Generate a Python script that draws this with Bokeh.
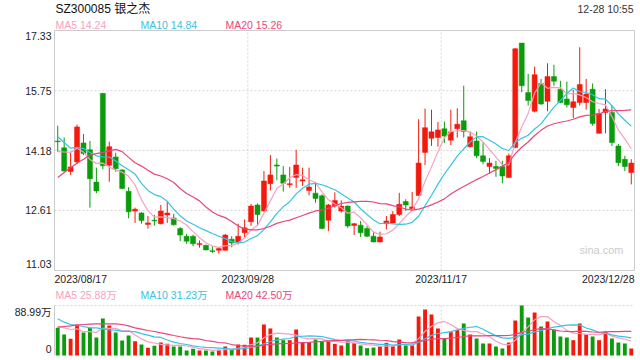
from bokeh.plotting import figure
from bokeh.models import Range1d, ColumnDataSource, Grid
from bokeh.core.properties import value
from bokeh.embed import file_html
from bokeh.resources import INLINE

# ---------------- data ----------------
title_text = "SZ300085 银之杰"
time_text = "12-28 10:55"
date_ticks = ["2023/08/17", "2023/09/28", "2023/11/17", "2023/12/28"]
date_tick_idx = [0, 30, 60, 89]
price_ticks = [17.33, 15.75, 14.18, 12.61, 11.03]
vol_ticks = ["88.99万", "0"]
price_ma_legend = ["MA5 14.24", "MA10 14.84", "MA20 15.26"]
vol_ma_legend = ["MA5 25.88万", "MA10 31.23万", "MA20 42.50万"]

opens = [14.43, 14.25, 13.63, 13.88, 14.38, 14.20, 13.35, 15.68, 13.79, 14.01,
         13.67, 13.11, 12.59, 12.54, 12.24, 12.35, 12.26, 12.49, 12.41, 12.13,
         11.93, 11.93, 11.71, 11.69, 11.55, 11.56, 11.56, 11.85, 11.76, 12.02,
         12.31, 12.75, 12.59, 13.31, 13.80, 13.54, 13.28, 13.47, 13.38, 13.13,
         13.06, 12.99, 12.35, 12.72, 12.59, 12.72, 12.21, 12.22, 12.13, 11.93,
         11.78, 12.26, 12.28, 12.50, 12.84, 12.65, 13.00, 14.13, 14.50, 14.52,
         14.75, 14.45, 14.75, 14.96, 14.28, 14.43, 14.04, 13.76, 13.76, 13.76,
         13.47, 14.26, 17.00, 15.70, 15.21, 15.94, 15.47, 16.12, 15.79, 15.53,
         15.31, 15.44, 15.44, 15.79, 14.63, 15.18, 15.18, 14.30, 13.95, 13.60]
highs = [14.83, 14.52, 14.15, 14.86, 14.61, 14.43, 13.73, 15.68, 14.41, 14.12,
         13.69, 13.22, 12.68, 12.56, 12.46, 12.49, 12.75, 12.84, 12.52, 12.17,
         11.99, 11.97, 11.82, 11.71, 11.67, 11.64, 11.99, 11.93, 12.26, 12.37,
         12.78, 12.79, 13.64, 14.06, 13.97, 13.77, 13.75, 14.20, 13.73, 13.73,
         13.36, 13.03, 12.78, 13.08, 12.87, 12.74, 12.28, 12.33, 12.20, 12.05,
         12.05, 12.46, 12.59, 13.07, 12.90, 13.09, 15.00, 15.28, 15.25, 14.93,
         14.94, 15.25, 15.29, 15.88, 14.68, 14.68, 14.39, 13.98, 13.91, 13.91,
         14.10, 16.87, 17.00, 16.19, 16.38, 16.06, 16.47, 16.43, 16.01, 15.99,
         15.77, 16.89, 16.06, 15.94, 15.27, 15.79, 15.36, 14.35, 14.04, 13.95]
lows = [14.15, 13.63, 13.54, 13.82, 14.06, 12.68, 13.06, 13.69, 13.36, 13.62,
        13.16, 12.40, 12.28, 12.26, 12.13, 12.21, 12.24, 12.28, 12.21, 11.80,
        11.73, 11.67, 11.63, 11.56, 11.49, 11.47, 11.55, 11.64, 11.71, 11.91,
        12.20, 12.20, 12.58, 13.13, 13.40, 13.10, 13.20, 13.20, 13.25, 13.00,
        12.81, 12.11, 12.06, 12.68, 12.55, 12.15, 11.96, 11.91, 11.91, 11.77,
        11.77, 12.11, 12.26, 12.46, 12.59, 12.61, 12.99, 13.80, 14.30, 14.28,
        14.38, 14.32, 14.52, 14.52, 14.26, 13.98, 13.82, 13.57, 13.49, 13.32,
        13.47, 14.24, 15.71, 15.36, 15.18, 15.38, 15.21, 15.88, 15.42, 15.31,
        15.03, 15.36, 15.25, 14.83, 14.63, 14.63, 14.30, 13.77, 13.64, 13.29]
closes = [14.41, 13.64, 13.75, 14.80, 14.10, 13.44, 13.12, 13.78, 14.28, 13.70,
          13.18, 12.57, 12.64, 12.34, 12.28, 12.33, 12.59, 12.54, 12.23, 11.96,
          11.80, 11.73, 11.74, 11.57, 11.53, 11.61, 11.96, 11.75, 11.93, 12.15,
          12.72, 12.50, 13.38, 13.54, 13.77, 13.32, 13.31, 13.80, 13.41, 13.22,
          12.92, 12.13, 12.75, 12.87, 12.72, 12.20, 12.26, 12.02, 11.93, 11.78,
          11.91, 12.33, 12.50, 12.77, 12.75, 12.70, 13.85, 14.78, 14.67, 14.72,
          14.56, 14.67, 14.87, 14.68, 14.54, 14.04, 13.89, 13.85, 13.71, 13.51,
          14.04, 16.85, 15.88, 15.49, 16.17, 15.40, 16.12, 16.00, 15.44, 15.38,
          15.46, 15.91, 15.66, 14.89, 15.15, 15.27, 14.39, 13.86, 13.76, 13.85]
# volume in 万 shares
volumes = [49.2, 37.4, 29.7, 54.6, 40.9, 49.2, 32.0, 65.9, 53.4, 40.9,
           26.7, 35.6, 25.5, 19.6, 13.6, 17.2, 23.1, 20.8, 16.0, 16.0,
           8.9, 11.9, 8.9, 8.9, 7.1, 10.1, 16.0, 10.1, 19.6, 19.0,
           32.0, 32.0, 55.2, 48.1, 32.0, 27.3, 27.3, 46.3, 23.7, 23.7,
           28.5, 25.5, 26.7, 20.8, 17.8, 25.5, 22.0, 17.8, 13.1, 14.2,
           16.0, 22.5, 16.6, 28.5, 17.8, 17.8, 69.4, 81.9, 73.0, 48.1,
           30.9, 41.5, 45.7, 57.0, 37.4, 30.3, 21.4, 21.4, 16.0, 12.5,
           23.1, 62.3, 88.99, 67.6, 76.5, 51.6, 60.5, 45.7, 33.8, 32.0,
           27.3, 57.0, 38.0, 33.8, 27.3, 42.7, 30.3, 23.1, 21.4, 12.5]

# moving-average values at the start of the window (they use earlier, unseen days)
ma5_head = [14.15, 14.14, 14.13, 14.24]
ma10_head = [14.54, 14.39, 14.24, 14.26, 14.23, 14.13, 14.04, 14.01, 14.01]
ma20_head = [13.47, 13.60, 13.73, 13.85, 13.95, 14.06, 14.10, 14.13, 14.17, 14.21,
             14.15, 14.00, 13.86, 13.77, 13.66, 13.56, 13.51, 13.44, 13.34]
vma5_head = [51.6, 49.2, 46.3, 47.5]
vma10_head = [65.3, 59.3, 55.2, 53.4, 51.6, 49.2, 49.2, 47.5, 45.7]
vma20_head = [50.4, 51.6, 52.8, 54.6, 55.2, 55.8, 56.4, 56.4, 56.4, 56.4,
              55.2, 52.8, 49.2, 46.9, 44.5, 42.7, 40.3, 38.0, 35.6]

# ---------------- styling ----------------
UP = "#f4190d"
DOWN = "#0a9c0a"
C_MA5 = "#f7a1c0"
C_MA10 = "#37c3e2"
C_MA20 = "#e8467c"
GRID = "#d6d6d6"
BORDER = "#cccccc"
FONT = "Liberation Sans, Noto Sans CJK SC"
FS = "10.5px"


def moving_avg(vals, n, head):
    out = []
    for i in range(len(vals)):
        if i < n - 1:
            out.append(head[i])
        else:
            out.append(sum(vals[i - n + 1:i + 1]) / n)
    return out


N = len(closes)
idx = list(range(N))
colors = [UP if c >= o else DOWN for o, c in zip(opens, closes)]
src = ColumnDataSource(dict(
    x=idx, o=opens, h=highs, l=lows, c=closes, v=volumes,
    top=[max(o, c) for o, c in zip(opens, closes)],
    bot=[min(o, c) for o, c in zip(opens, closes)],
    col=colors,
    ma5=moving_avg(closes, 5, ma5_head),
    ma10=moving_avg(closes, 10, ma10_head),
    ma20=moving_avg(closes, 20, ma20_head),
    vma5=moving_avg(volumes, 5, vma5_head),
    vma10=moving_avg(volumes, 10, vma10_head),
    vma20=moving_avg(volumes, 20, vma20_head),
))

# ---------------- layout geometry (pixels of the 640x360 canvas) ----------------
W, H = 640, 360
PL, PR = 54, 634          # plot panels: left / right edge
P_TOP, P_BOT = 30, 270    # price panel: top / bottom
V_TOP, V_BOT = 305, 355   # volume panel: top / bottom
X0, X1 = -0.5, N - 0.5
YHI, YLO = price_ticks[0], price_ticks[-1]
VMAX = max(volumes)

xpp = (X1 - X0) / (PR - PL)          # data units per pixel (x)
ypp = (YHI - YLO) / (P_BOT - P_TOP)  # price units per pixel
vpp = VMAX / (V_BOT - V_TOP)         # volume units per pixel

x_range = Range1d(X0 - PL * xpp, X1 + (W - PR) * xpp)
y_range = Range1d(YLO - (H - P_BOT) * ypp, YHI + P_TOP * ypp)
v_range = Range1d(0 - (H - V_BOT) * vpp, VMAX + V_TOP * vpp)


def PX(px):
    return X0 + (px - PL) * xpp


def PY(py):
    return YHI - (py - P_TOP) * ypp


p = figure(width=W, height=H, output_backend="svg", toolbar_location=None,
           x_range=x_range, y_range=y_range, extra_y_ranges={"vol": v_range},
           x_axis_location=None, y_axis_location=None,
           min_border=0, background_fill_color="white", border_fill_color="white")
p.outline_line_color = None
p.center = [r for r in p.center if not isinstance(r, Grid)]

# --- price panel: grid and frame ---
inner = price_ticks[1:-1]
p.segment(x0=[X0] * len(inner), x1=[X1] * len(inner), y0=inner, y1=inner,
          line_color=GRID, line_dash="2 2", line_width=1)
vx = [date_tick_idx[1] - 0.5, date_tick_idx[2] - 0.5]
p.segment(x0=vx, x1=vx, y0=[YLO] * 2, y1=[YHI] * 2,
          line_color=GRID, line_dash="2 2", line_width=1)
p.quad(left=[X0], right=[X1], bottom=[YLO], top=[YHI], fill_color=None,
       line_color=BORDER, line_width=1)

# --- candles ---
p.segment(x0="x", y0="l", x1="x", y1="h", color="col", line_width=1, source=src)
p.vbar(x="x", width=0.78, top="top", bottom="bot", fill_color="col", line_color="col",
       line_width=0.5, source=src)
p.line("x", "ma5", color=C_MA5, line_width=1.2, source=src)
p.line("x", "ma10", color=C_MA10, line_width=1.2, source=src)
p.line("x", "ma20", color=C_MA20, line_width=1.2, source=src)

# --- volume panel ---
p.segment(x0=[X0], x1=[X1], y0=[VMAX], y1=[VMAX], y_range_name="vol",
          line_color=GRID, line_dash="2 2", line_width=1)
p.segment(x0=vx, x1=vx, y0=[0] * 2, y1=[VMAX] * 2, y_range_name="vol",
          line_color=GRID, line_dash="2 2", line_width=1)
p.segment(x0=[X0], x1=[X0], y0=[0], y1=[VMAX], y_range_name="vol",
          line_color=BORDER, line_width=1)
p.vbar(x="x", width=0.6, top="v", bottom=0, fill_color="col", line_color=None,
       source=src, y_range_name="vol")
p.line("x", "vma5", color=C_MA5, line_width=1.2, source=src, y_range_name="vol")
p.line("x", "vma10", color=C_MA10, line_width=1.2, source=src, y_range_name="vol")
p.line("x", "vma20", color=C_MA20, line_width=1.2, source=src, y_range_name="vol")


# --- texts ---
def txt(x, y, text, color="#222222", align="left", baseline="middle", size=FS):
    p.text(x=[x], y=[y], text=[text], text_color=color, text_align=align,
           text_baseline=baseline, text_font=value(FONT), text_font_size=value(size))


txt(PX(55), PY(8), title_text, color="#111111", size="12px")
txt(PX(633), PY(8), time_text, color="#333333", align="right")
for t, px, c in zip(price_ma_legend, [55, 140, 225], [C_MA5, C_MA10, C_MA20]):
    txt(PX(px), PY(24.5), t, color=c)
for t, px, c in zip(vol_ma_legend, [55, 140, 225], [C_MA5, C_MA10, C_MA20]):
    txt(PX(px), PY(294.5), t, color=c)

# price tick labels (edge labels nudged inside the panel, as in the original)
for v in price_ticks:
    y = v
    if v == YHI:
        y = PY(P_TOP + 5)
    elif v == YLO:
        y = PY(P_BOT - 6.5)
    txt(PX(51), y, f"{v:.2f}", align="right")

# date labels
aligns = ["left", "center", "center", "right"]
xs = [X0, date_tick_idx[1] - 0.5, date_tick_idx[2] - 0.5, X1]
for t, x, a in zip(date_ticks, xs, aligns):
    txt(x, PY(278), t, align=a)

txt(PX(623), PY(249), "sina.com", color="#cccccc", align="right", size="11px")

# volume tick labels
txt(PX(51), PY(311), vol_ticks[0], align="right")
txt(PX(51), PY(348.5), vol_ticks[1], align="right")

open("out.html", "w").write(file_html(p, INLINE))
